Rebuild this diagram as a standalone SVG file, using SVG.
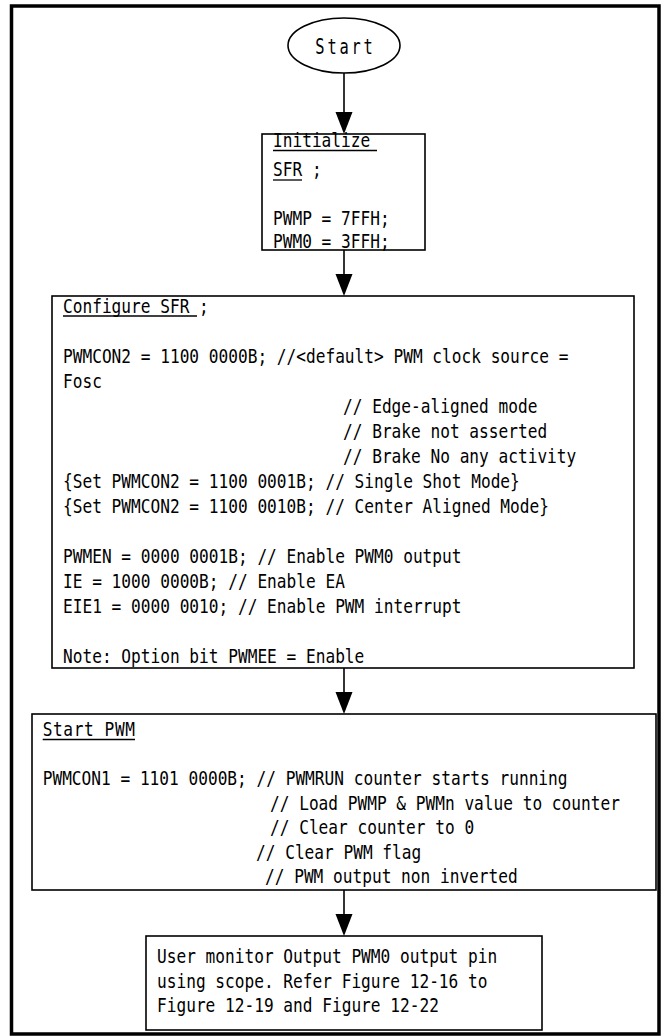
<svg xmlns="http://www.w3.org/2000/svg" width="661" height="1036" viewBox="0 0 661 1036">
<style>
  .frame { fill: none; stroke: #000; stroke-width: 3.5; }
  .box { fill: #fff; stroke: #000; stroke-width: 1.6; }
  .t { font-family: "DejaVu Sans Mono", "Liberation Mono", monospace; font-size: 19px; fill: #000; white-space: pre; }
  .ul { stroke: #000; stroke-width: 1.3; }
  .conn { stroke: #000; stroke-width: 1.6; fill: none; }
  .head { fill: #000; stroke: none; }
</style>
<rect width="661" height="1036" fill="#fff"/>
<rect class="frame" x="11.5" y="6" width="647.5" height="1028"/>

<g id="connectors">
  <line class="conn" x1="344" y1="73" x2="344" y2="114"/>
  <polygon class="head" points="335.5,112 352.5,112 344,134"/>
  <line class="conn" x1="344" y1="250" x2="344" y2="276"/>
  <polygon class="head" points="335.5,274 352.5,274 344,296"/>
  <line class="conn" x1="344" y1="668" x2="344" y2="694"/>
  <polygon class="head" points="335.5,692 352.5,692 344,714"/>
  <line class="conn" x1="344" y1="890" x2="344" y2="916"/>
  <polygon class="head" points="335.5,914 352.5,914 344,936"/>
</g>

<g id="node-start">
  <ellipse class="box" cx="344" cy="45.5" rx="56" ry="27.5"/>
  <text class="t" style="font-size:22px;letter-spacing:4px" text-anchor="middle" transform="translate(345.5 54) scale(0.7 1)">Start</text>
</g>

<g id="node-init">
  <rect class="box" x="262" y="134" width="163" height="116"/>
  <text class="t" transform="translate(273 147) scale(0.85 1)">Initialize</text>
  <line class="ul" x1="273" y1="150.5" x2="377" y2="150.5"/>
  <text class="t" transform="translate(273 176) scale(0.85 1)">SFR ;</text>
  <line class="ul" x1="273" y1="180" x2="302" y2="180"/>
  <text class="t" transform="translate(273 225) scale(0.85 1)">PWMP = 7FFH;</text>
  <text class="t" transform="translate(273 248) scale(0.85 1)">PWM0 = 3FFH;</text>
</g>

<g id="node-config">
  <rect class="box" x="52" y="296" width="582" height="372"/>
  <text class="t" transform="translate(63 313) scale(0.85 1)">Configure SFR ;</text>
  <line class="ul" x1="63" y1="316" x2="197" y2="316"/>
  <text class="t" transform="translate(63 363) scale(0.85 1)">PWMCON2 = 1100 0000B; //&lt;default&gt; PWM clock source =</text>
  <text class="t" transform="translate(63 388) scale(0.85 1)">Fosc</text>
  <text class="t" transform="translate(343 413) scale(0.85 1)">// Edge-aligned mode</text>
  <text class="t" transform="translate(343 438) scale(0.85 1)">// Brake not asserted</text>
  <text class="t" transform="translate(343 463) scale(0.85 1)">// Brake No any activity</text>
  <text class="t" transform="translate(63 488) scale(0.85 1)">{Set PWMCON2 = 1100 0001B; // Single Shot Mode}</text>
  <text class="t" transform="translate(63 513) scale(0.85 1)">{Set PWMCON2 = 1100 0010B; // Center Aligned Mode}</text>
  <text class="t" transform="translate(63 563) scale(0.85 1)">PWMEN = 0000 0001B; // Enable PWM0 output</text>
  <text class="t" transform="translate(63 588) scale(0.85 1)">IE = 1000 0000B; // Enable EA</text>
  <text class="t" transform="translate(63 613) scale(0.85 1)">EIE1 = 0000 0010; // Enable PWM interrupt</text>
  <text class="t" transform="translate(63 663) scale(0.85 1)">Note: Option bit PWMEE = Enable</text>
</g>

<g id="node-startpwm">
  <rect class="box" x="32" y="714" width="624" height="176"/>
  <text class="t" style="letter-spacing:0.7px" transform="translate(42.7 736) scale(0.85 1)">Start PWM</text>
  <line class="ul" x1="42.7" y1="739.5" x2="135" y2="739.5"/>
  <text class="t" transform="translate(42.7 785) scale(0.85 1)">PWMCON1 = 1101 0000B; // PWMRUN counter starts running</text>
  <text class="t" transform="translate(270 809.5) scale(0.85 1)">// Load PWMP &amp; PWMn value to counter</text>
  <text class="t" transform="translate(270 834) scale(0.85 1)">// Clear counter to 0</text>
  <text class="t" transform="translate(256 858.5) scale(0.85 1)">// Clear PWM flag</text>
  <text class="t" transform="translate(265 883) scale(0.85 1)">// PWM output non inverted</text>
</g>

<g id="node-monitor">
  <rect class="box" x="146" y="936" width="396" height="94"/>
  <text class="t" transform="translate(157 963) scale(0.85 1)">User monitor Output PWM0 output pin</text>
  <text class="t" transform="translate(157 988) scale(0.85 1)">using scope. Refer Figure 12-16 to</text>
  <text class="t" transform="translate(157 1012) scale(0.85 1)">Figure 12-19 and Figure 12-22</text>
</g>
</svg>
